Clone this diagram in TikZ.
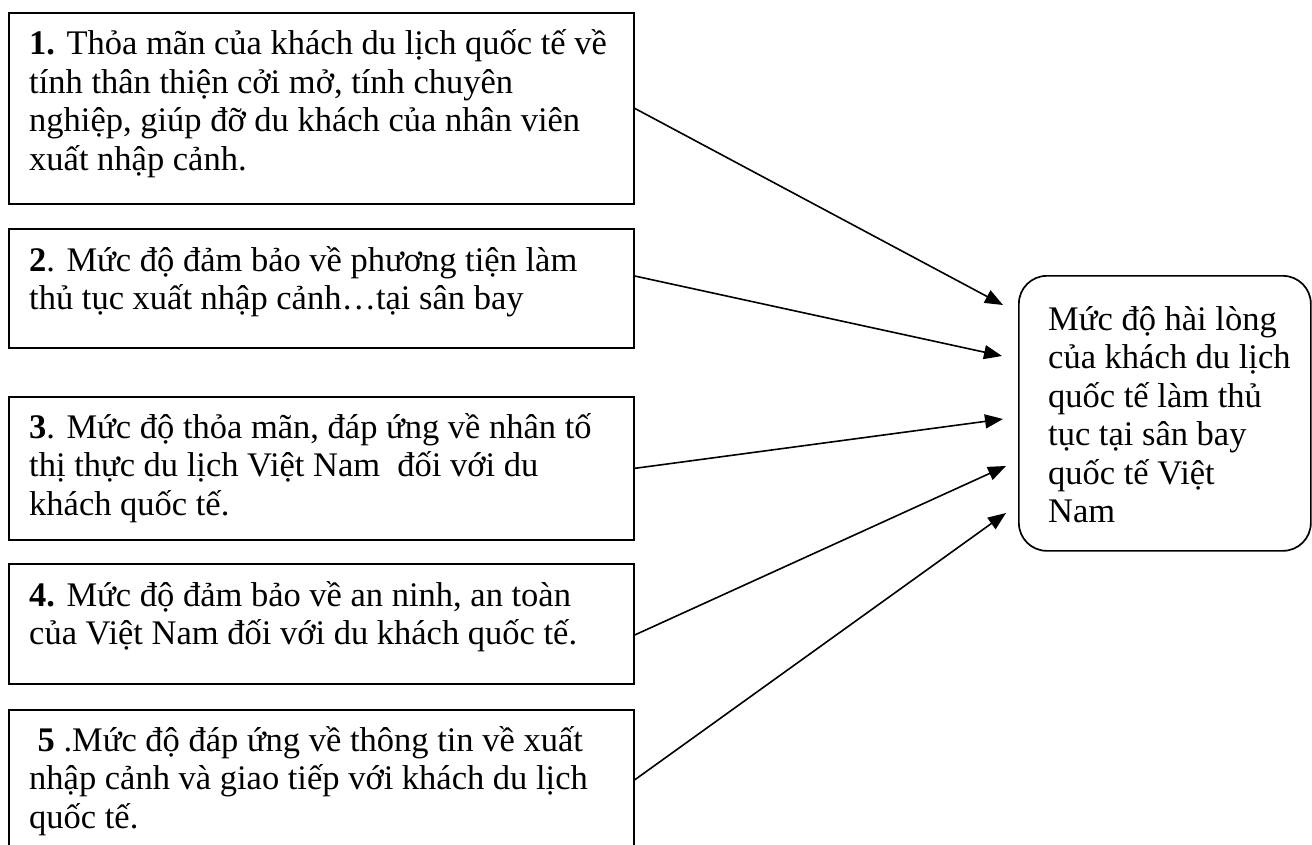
\documentclass[tikz,border=0pt]{standalone}
\usepackage{fontspec}
\setmainfont{Liberation Serif}
\usetikzlibrary{arrows.meta,calc}
\newcommand{\tbx}[2]{\parbox[t]{#1}{\raggedright #2}}
\begin{document}
\begin{tikzpicture}[x=1pt,y=1pt,
  boxst/.style={draw,line width=1.7pt,anchor=north west,inner sep=0pt},
  txt/.style={anchor=base west,inner sep=0pt,font=\fontsize{34.5}{38.5}\selectfont},
  arr/.style={line width=1.6pt,-{Triangle[length=18pt,width=14pt]}}]
\clip (0,0) rectangle (1312,-845);
\useasboundingbox (0,0) rectangle (1312,-845);
% left boxes
\node[boxst,minimum width=625pt,minimum height=191pt] (b1) at (8,-12) {};
\node[boxst,minimum width=625pt,minimum height=119pt] (b2) at (8,-228) {};
\node[boxst,minimum width=625pt,minimum height=143pt] (b3) at (8,-396) {};
\node[boxst,minimum width=625pt,minimum height=120pt] (b4) at (8,-563) {};
\node[boxst,minimum width=625pt,minimum height=140pt] (b5) at (8,-709) {};
% right box
\node[boxst,rounded corners=28pt,minimum width=292pt,minimum height=275pt] (r) at (1018,-275) {};
% texts
\node[txt] (t1) at (29,-55) {\tbx{600pt}{\textbf{1.} Thỏa mãn của khách du lịch quốc tế về\\tính thân thiện cởi mở, tính chuyên\\nghiệp, giúp đỡ du khách của nhân viên\\xuất nhập cảnh.}};
\node[txt] (t2) at (29,-271) {\tbx{600pt}{\textbf{2}. Mức độ đảm bảo về phương tiện làm\\thủ tục xuất nhập cảnh…tại sân bay}};
\node[txt] (t3) at (29,-438) {\tbx{600pt}{\textbf{3}. Mức độ thỏa mãn, đáp ứng về nhân tố\\thị thực du lịch Việt Nam \ đối với du\\khách quốc tế.}};
\node[txt] (t4) at (29,-606) {\tbx{600pt}{\textbf{4.} Mức độ đảm bảo về an ninh, an toàn\\của Việt Nam đối với du khách quốc tế.}};
\node[txt] (t5) at (29,-751) {\tbx{600pt}{\hspace*{8.5pt}\textbf{5} .Mức độ đáp ứng về thông tin về xuất\\nhập cảnh và giao tiếp với khách du lịch\\quốc tế.}};
\node[txt] (tr) at (1048,-330) {\tbx{260pt}{Mức độ hài lòng\\của khách du lịch\\quốc tế làm thủ\\tục tại sân bay\\quốc tế Việt\\Nam}};
% arrow tips
\coordinate (a1) at (1003,-305);
\coordinate (a2) at (1002,-356);
\coordinate (a3) at (1003,-419);
\coordinate (a4) at (1006,-466);
\coordinate (a5) at (1006,-513);
\draw[arr] (b1.east) -- (a1);
\draw[arr] ($(b2.north east)+(0,-48)$) -- (a2);
\draw[arr] (b3.east) -- (a3);
\draw[arr] ($(b4.north east)+(0,-72)$) -- (a4);
\draw[arr] (b5.east) -- (a5);
\end{tikzpicture}
\end{document}
